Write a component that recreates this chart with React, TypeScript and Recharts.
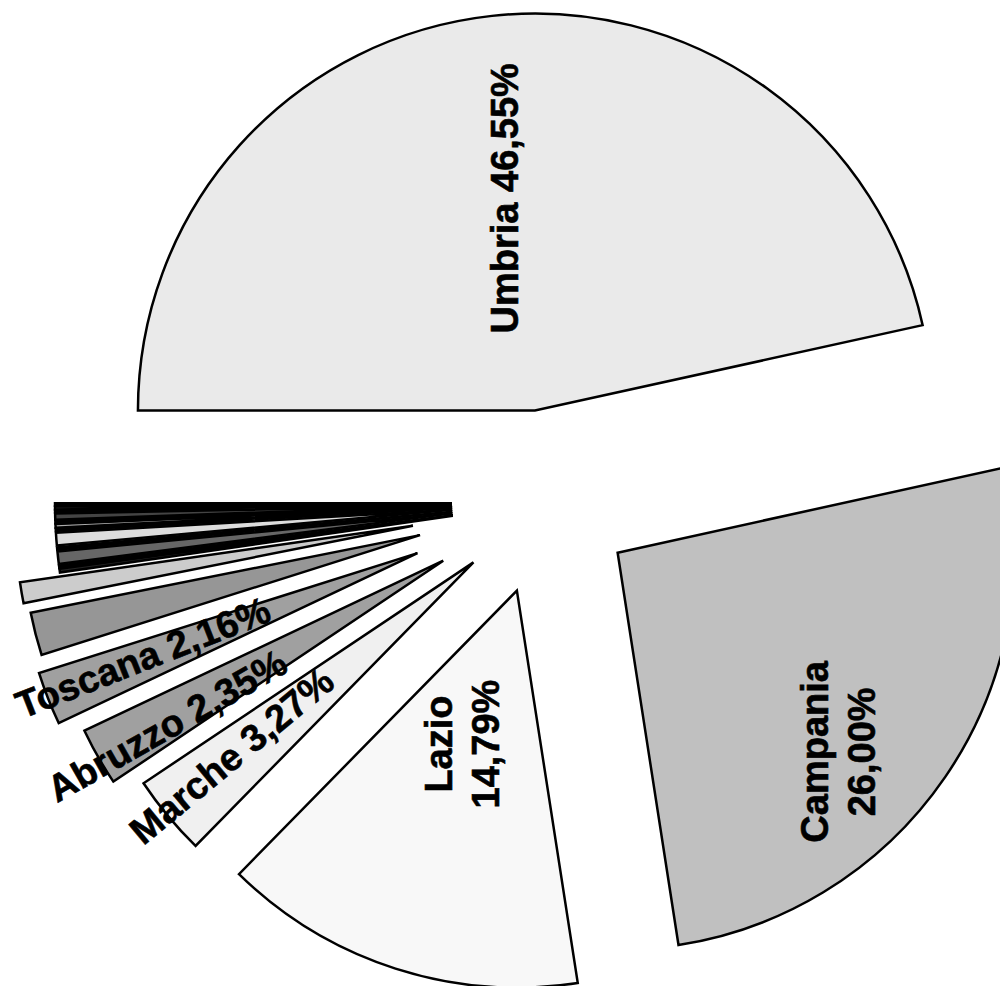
import React from 'react';
import { PieChart, Pie, Sector } from 'recharts';

// ---- data ----
const REGIONS = [
  'Umbria', 'Campania', 'Lazio', 'Marche', 'Abruzzo', 'Toscana',
  'Altro 1', 'Altro 2', 'Altro 3', 'Altro 4', 'Altro 5', 'Altro 6', 'Altro 7',
  'Altro 8', 'Altro 9', 'Altro 10', 'Altro 11', 'Altro 12', 'Altro 13', 'Altro 14',
];
const SHARES = [
  46.55, 26.0, 14.79, 3.27, 2.35, 2.16,
  1.75, 0.85, 0.15, 0.1, 0.5, 0.1, 0.51,
  0.1, 0.15, 0.1, 0.25, 0.1, 0.12, 0.1,
];
// which slices carry a label and how the label is laid out (one line / two lines)
const LABEL_LINES = [1, 2, 2, 1, 1, 1];

// ---- styles ----
const COLORS = [
  '#EAEAEA', '#C0C0C0', '#F8F8F8', '#F0F0F0', '#A0A0A0', '#A0A0A0',
  '#969696', '#CCCCCC', '#222222', '#111111', '#666666', '#111111', '#DDDDDD',
  '#111111', '#AAAAAA', '#111111', '#444444', '#111111', '#333333', '#111111',
];
const EXPLODE = [
  93, 88, 92, 93, 117, 137,
  129, 134, 93, 93, 93, 93, 93,
  93, 93, 93, 93, 93, 93, 93,
];
// label placement: fraction of radius from slice apex, angle tweak, vertical or radial
const LABEL_CFG = [
  { r: 0.54, da: 1.8, vertical: true },
  { r: 0.75, da: -7.6, vertical: true },
  { r: 0.41, da: -1.7, vertical: true },
  { r: 0.78, da: -1.0, vertical: false },
  { r: 0.81, da: 1.3, vertical: false },
  { r: 0.74, da: -0.6, vertical: false },
];

const RAD = Math.PI / 180;
const FONT = '"Liberation Sans", Arial, Helvetica, sans-serif';
const FS = 38;
const LH = 47;

const data = REGIONS.map((name, i) => ({ name, value: SHARES[i] }));

const fmt = (v: number) => v.toFixed(2).replace('.', ',') + '%';

const apex = (cx: number, cy: number, midAngle: number, d: number) => ({
  x: cx + d * Math.cos(-midAngle * RAD),
  y: cy + d * Math.sin(-midAngle * RAD),
});

const renderSector = (props: any) => {
  const { cx, cy, midAngle, outerRadius, startAngle, endAngle, index } = props;
  const a = apex(cx, cy, midAngle, EXPLODE[index]);
  return (
    <Sector
      key={`s-${index}`}
      cx={a.x}
      cy={a.y}
      innerRadius={0}
      outerRadius={outerRadius}
      startAngle={startAngle}
      endAngle={endAngle}
      fill={COLORS[index]}
      stroke="#000000"
      strokeWidth={2.5}
      strokeLinejoin="miter"
    />
  );
};

const renderText = (props: any) => {
  const { cx, cy, midAngle, outerRadius, index } = props;
  const cfg = LABEL_CFG[index];
  if (!cfg) return null;
  const a = apex(cx, cy, midAngle, EXPLODE[index]);
  const ang = midAngle + cfg.da;
  const x = a.x + cfg.r * outerRadius * Math.cos(-ang * RAD);
  const y = a.y + cfg.r * outerRadius * Math.sin(-ang * RAD);
  const rot = cfg.vertical ? -90 : -(midAngle + 180);
  const lines =
    LABEL_LINES[index] === 2
      ? [REGIONS[index], fmt(SHARES[index])]
      : [`${REGIONS[index]} ${fmt(SHARES[index])}`];
  return (
    <text
      key={`t-${index}`}
      x={x}
      y={y}
      transform={`rotate(${rot} ${x} ${y})`}
      textAnchor="middle"
      dominantBaseline="central"
      fontFamily={FONT}
      fontWeight="bold"
      fontSize={FS}
      fill="#000000"
      stroke="#000000"
      strokeWidth={0.6}
    >
      {lines.map((l, i) => (
        <tspan
          key={i}
          x={x}
          dy={i === 0 ? -((lines.length - 1) * LH) / 2 : LH}
          dominantBaseline="central"
        >
          {l}
        </tspan>
      ))}
    </text>
  );
};

export default function App() {
  return (
    <div style={{ width: 1000, height: 978, background: '#ffffff' }}>
      <PieChart width={1000} height={978} margin={{ top: 0, right: 0, bottom: 0, left: 0 }}>
        <Pie
          data={data}
          dataKey="value"
          nameKey="name"
          cx={537}
          cy={495}
          outerRadius={397}
          startAngle={180}
          endAngle={-180}
          fill="transparent"
          stroke="none"
          labelLine={false}
          label={renderSector}
          isAnimationActive={false}
        />
        <Pie
          data={data}
          dataKey="value"
          nameKey="name"
          cx={537}
          cy={495}
          outerRadius={397}
          startAngle={180}
          endAngle={-180}
          fill="transparent"
          stroke="none"
          labelLine={false}
          label={renderText}
          isAnimationActive={false}
        />
      </PieChart>
    </div>
  );
}
